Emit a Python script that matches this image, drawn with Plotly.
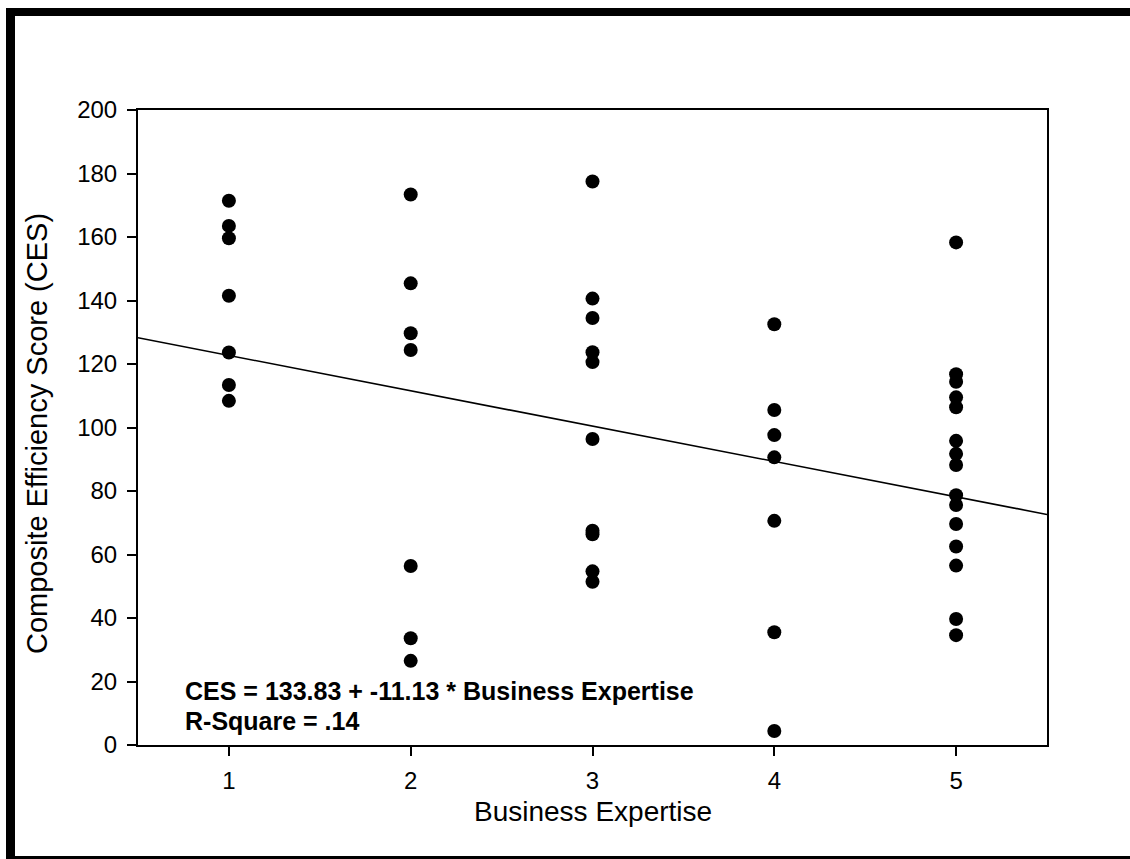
import plotly.graph_objects as go

# Composite Efficiency Score observed at each Business Expertise level
expertise_levels = [1, 2, 3, 4, 5]
ces_level1 = [171.4, 163.5, 159.6, 141.5, 123.6, 113.4, 108.4]
ces_level2 = [173.4, 145.4, 129.7, 124.4, 56.4, 33.6, 26.5]
ces_level3 = [177.5, 140.6, 134.5, 123.7, 120.6, 96.4, 67.5, 66.4, 54.7, 51.4]
ces_level4 = [132.5, 105.5, 97.6, 90.6, 70.6, 35.5, 4.4]
ces_level5 = [158.3, 116.8, 114.4, 109.5, 106.4, 95.8, 91.7, 88.2, 78.7, 75.6,
              69.6, 62.5, 56.5, 39.7, 34.6]

# Fitted regression: CES = intercept + slope * Business Expertise
intercept = 133.83
slope = -11.13
r_square = ".14"

x_range = [0.5, 5.5]
y_range = [0, 200]

groups = [ces_level1, ces_level2, ces_level3, ces_level4, ces_level5]
xs, ys = [], []
for lvl, vals in zip(expertise_levels, groups):
    xs.extend([lvl] * len(vals))
    ys.extend(vals)

FONT = "Liberation Sans, Arial, sans-serif"

fig = go.Figure()

fig.add_trace(go.Scatter(
    x=x_range,
    y=[intercept + slope * v for v in x_range],
    mode="lines",
    line=dict(color="black", width=1.6),
    hoverinfo="skip",
    showlegend=False,
))

fig.add_trace(go.Scatter(
    x=xs, y=ys,
    mode="markers",
    marker=dict(color="black", size=14, line=dict(width=0)),
    showlegend=False,
))

axis_common = dict(
    showline=True, linecolor="black", linewidth=2, mirror=True,
    ticks="outside", ticklen=9, tickwidth=2, tickcolor="black",
    showgrid=False, zeroline=False,
    tickfont=dict(family=FONT, size=24, color="black"),
)

fig.update_xaxes(range=x_range, tickvals=expertise_levels,
                 ticklabelstandoff=4, **axis_common)
fig.update_yaxes(range=y_range, dtick=20, tick0=0,
                 ticklabelstandoff=5, **axis_common)

W, H = 1130, 859
L, R, T, B = 138, 1047, 110, 745
fig.update_layout(
    width=W, height=H,
    margin=dict(l=L, r=W - R, t=T, b=H - B, pad=0),
    paper_bgcolor="white", plot_bgcolor="white",
    font=dict(family=FONT, color="black"),
)


def px_x(p):
    return (p - L) / (R - L)


def px_y(p):
    return (B - p) / (B - T)


annotations = [
    dict(text="Business Expertise", x=0.5, y=px_y(811), xref="paper", yref="paper",
         xanchor="center", yanchor="middle", showarrow=False,
         font=dict(family=FONT, size=28, color="black")),
    dict(text="Composite Efficiency Score (CES)", x=px_x(37), y=px_y(434),
         xref="paper", yref="paper", xanchor="center", yanchor="middle",
         textangle=-90, showarrow=False,
         font=dict(family=FONT, size=29, color="black")),
    dict(text=f"<b>CES = {intercept:.2f} + {slope:.2f} * Business Expertise</b>",
         x=px_x(183), y=px_y(691), xref="paper", yref="paper",
         xanchor="left", yanchor="middle", showarrow=False,
         font=dict(family=FONT, size=25, color="black")),
    dict(text=f"<b>R-Square = {r_square}</b>",
         x=px_x(183), y=px_y(721), xref="paper", yref="paper",
         xanchor="left", yanchor="middle", showarrow=False,
         font=dict(family=FONT, size=25, color="black")),
]
fig.update_layout(annotations=annotations)

# Heavy black frame around the page (left, top, bottom edges)
frame = [
    (6, 8, 15, H),     # left bar
    (6, 8, W, 16),     # top bar
    (6, 856, W, H),    # bottom bar
]
fig.update_layout(shapes=[
    dict(type="rect", xref="paper", yref="paper",
         x0=px_x(a), x1=px_x(c), y0=px_y(b), y1=px_y(d),
         fillcolor="black", line=dict(width=0), layer="above")
    for a, b, c, d in frame
])

fig.write_html("out.html")
